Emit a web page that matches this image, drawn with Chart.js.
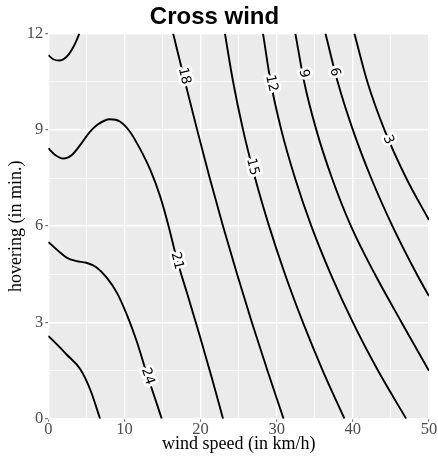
<!DOCTYPE html>
<html>
<head>
<meta charset="utf-8">
<script src="https://cdn.jsdelivr.net/npm/chart.js@4/dist/chart.umd.min.js"></script>
<style>
  html, body { margin: 0; padding: 0; background: #fff; }
  #cardChart { width: 438px; height: 456px; }
</style>
</head>
<body>
<div id="cardChart"><canvas id="myChart" width="438" height="456"></canvas></div>
<script>
// contour lines: x = wind speed (km/h), y = hovering (min.)
const c27x = [0, 1.2, 2.4, 4.2, 5.5, 6.8];
const c27y = [2.58, 2.3, 2.0, 1.54, 0.91, 0];

const c24x = [0, 1.3, 2.4, 3.7, 5.0, 6.3, 7.7, 9.0, 10.3, 11.6, 12.9, 14.2, 14.9];
const c24y = [5.51, 5.23, 5.02, 4.91, 4.86, 4.72, 4.39, 3.93, 3.25, 2.42, 1.43, 0.5, 0];

const c21x = [0, 0.9, 2.0, 3.1, 4.2, 5.3, 6.4, 8.1, 9.4, 10.7, 12.0, 13.4, 14.7, 15.8, 16.9, 18.2, 19.9, 21.5, 22.95];
const c21y = [8.43, 8.22, 8.11, 8.22, 8.53, 8.89, 9.15, 9.33, 9.26, 8.95, 8.43, 7.75, 6.92, 6.0, 4.95, 3.93, 2.58, 1.25, 0];

const c18ax = [0, 0.66, 1.45, 2.41, 3.07, 3.64, 4.07];
const c18ay = [11.33, 11.2, 11.16, 11.28, 11.49, 11.75, 12.0];

// the right-hand family, read at every 1.5 min. of hovering
const yLevels = [12, 10.5, 9, 7.5, 6, 4.5, 3, 1.5, 0];
const c18x = [16.4, 17.95, 19.55, 21.2, 22.95, 24.8, 26.74, 28.78, 30.9];
const c15x = [23.2, 24.27, 25.58, 27.16, 29.0, 31.09, 33.44, 36.04, 38.9];
const c12x = [28.2, 29.2, 30.6, 32.4, 34.55, 37.1, 40.0, 43.3, 47.0];

const c9x = [32.45, 33.6, 35.2, 37.25, 39.75, 42.9, 46.4, 50];
const c9y = [12, 10.5, 9, 7.5, 6, 4.5, 3, 1.49];

const c6x = [36.4, 38.0, 40.0, 42.4, 45.2, 48.4, 50];
const c6y = [12, 10.5, 9, 7.5, 6, 4.5, 3.82];

const c3x = [40.2, 41.9, 44.15, 47.0, 50];
const c3y = [12, 10.5, 9, 7.5, 6.19];

// contour labels
const labelLevels = ['18', '15', '12', '9', '6', '3', '21', '24'];
const labelX = [17.85, 26.8, 29.3, 33.55, 37.6, 44.65, 16.9, 13.05];
const labelY = [10.68, 7.85, 10.45, 10.75, 10.8, 8.69, 4.92, 1.32];

// axis ticks
const xTicks = [0, 10, 20, 30, 40, 50];
const yTicks = [0, 3, 6, 9, 12];

const sFont = 'Liberation Serif';

function toPts(xs, ys) {
	return xs.map((x, i) => ({ x: x, y: ys[i] }));
}

function contour(name, xs, ys) {
	return {
		label: name,
		data: toPts(xs, ys),
		showLine: true,
		borderColor: '#000',
		borderWidth: 1.9,
		pointRadius: 0,
		cubicInterpolationMode: 'monotone',
		fill: false
	};
}

const isMajor = (v, list) => list.some(t => Math.abs(t - v) < 1e-6);

const panelBg = {
	id: 'panelBg',
	beforeDraw(chart) {
		const a = chart.chartArea;
		const ctx = chart.ctx;
		ctx.save();
		ctx.fillStyle = '#EBEBEB';
		ctx.fillRect(a.left, a.top, a.right - a.left, a.bottom - a.top);
		ctx.restore();
	}
};

const contourLabels = {
	id: 'contourLabels',
	afterDatasetsDraw(chart) {
		const ctx = chart.ctx;
		const sx = chart.scales.x, sy = chart.scales.y;
		ctx.save();
		ctx.font = '13.5px "DejaVu Sans"';
		ctx.textAlign = 'center';
		ctx.textBaseline = 'middle';
		ctx.lineJoin = 'round';
		labelLevels.forEach((lv, k) => {
			const ds = chart.data.datasets.find(d => d.label === lv);
			const pts = ds.data;
			let i = 0;
			while (i < pts.length - 2 && pts[i + 1].x < labelX[k]) i++;
			const dx = sx.getPixelForValue(pts[i + 1].x) - sx.getPixelForValue(pts[i].x);
			const dy = sy.getPixelForValue(pts[i + 1].y) - sy.getPixelForValue(pts[i].y);
			const ang = Math.atan2(dy, dx);
			ctx.save();
			ctx.translate(sx.getPixelForValue(labelX[k]), sy.getPixelForValue(labelY[k]));
			ctx.rotate(ang);
			ctx.strokeStyle = '#fff';
			ctx.lineWidth = 5.5;
			ctx.strokeText(lv, 0, 0);
			ctx.fillStyle = '#000';
			ctx.fillText(lv, 0, 0);
			ctx.restore();
		});
		ctx.restore();
	}
};

new Chart(document.getElementById('myChart'), {
	type: 'scatter',
	data: {
		datasets: [
			contour('27', c27x, c27y),
			contour('24', c24x, c24y),
			contour('21', c21x, c21y),
			contour('18', c18x, yLevels),
			contour('18b', c18ax, c18ay),
			contour('15', c15x, yLevels),
			contour('12', c12x, yLevels),
			contour('9', c9x, c9y),
			contour('6', c6x, c6y),
			contour('3', c3x, c3y)
		]
	},
	options: {
		responsive: false,
		animation: false,
		layout: { padding: { left: 0, right: 9, top: 0, bottom: 0 } },
		plugins: {
			legend: { display: false },
			tooltip: { enabled: false },
			title: {
				display: true,
				text: 'Cross wind',
				color: '#000',
				font: { family: 'Liberation Sans', size: 24, weight: 'bold', lineHeight: 1.2 },
				padding: { top: 2.5, bottom: 2.3 }
			}
		},
		scales: {
			x: {
				type: 'linear',
				min: 0,
				max: 50,
				afterFit(s) { s.height = 37.3; s.paddingLeft = 0; s.paddingRight = 0; },
				border: { display: false },
				grid: {
					color: '#fff',
					lineWidth: c => isMajor(c.tick.value, xTicks) ? 1.4 : 0.7,
					tickLength: 3,
					tickWidth: 1,
					tickColor: c => isMajor(c.tick.value, xTicks) ? '#555' : 'rgba(0,0,0,0)'
				},
				ticks: {
					stepSize: 5,
					autoSkip: false,
					maxRotation: 0,
					padding: 0,
					color: '#4D4D4D',
					font: { family: sFont, size: 16.5, lineHeight: 1 },
					callback: v => isMajor(v, xTicks) ? String(v) : ''
				},
				title: {
					display: true,
					text: 'wind speed (in km/h)',
					color: '#000',
					font: { family: sFont, size: 18, lineHeight: 1.2 },
					padding: { top: 0, bottom: 0.8 }
				}
			},
			y: {
				type: 'linear',
				min: 0,
				max: 12,
				afterFit(s) { s.width = 48.3; s.paddingTop = 0; s.paddingBottom = 0; },
				border: { display: false },
				grid: {
					color: '#fff',
					lineWidth: c => isMajor(c.tick.value, yTicks) ? 1.4 : 0.7,
					tickLength: 3,
					tickWidth: 1,
					tickColor: c => isMajor(c.tick.value, yTicks) ? '#555' : 'rgba(0,0,0,0)'
				},
				ticks: {
					stepSize: 1.5,
					autoSkip: false,
					padding: 2,
					color: '#4D4D4D',
					font: { family: sFont, size: 16.5, lineHeight: 1 },
					callback: v => isMajor(v, yTicks) ? String(v) : ''
				},
				title: {
					display: true,
					text: 'hovering (in min.)',
					color: '#000',
					font: { family: sFont, size: 18, lineHeight: 1.2 },
					padding: { top: 5, bottom: 0 }
				}
			}
		}
	},
	plugins: [panelBg, contourLabels]
});
</script>
</body>
</html>
